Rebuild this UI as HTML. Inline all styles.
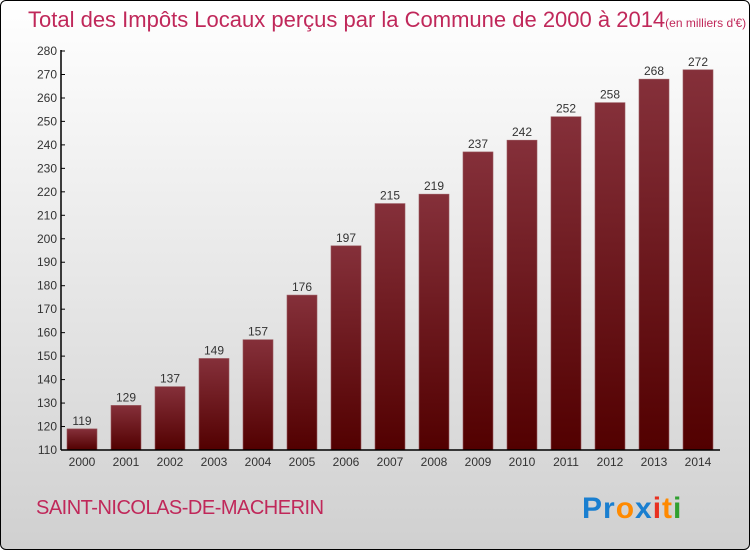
<!DOCTYPE html>
<html><head><meta charset="utf-8"><style>
body{margin:0;}
#c{width:748px;height:548px;border:1px solid #000;border-radius:6px;background:linear-gradient(#ffffff,#d0d0d0);position:relative;overflow:hidden;font-family:"Liberation Sans",sans-serif;}
</style></head><body>
<div id="c">
<svg id="s" width="750" height="550" style="position:absolute;left:-1px;top:-1px">
<defs><linearGradient id="g" x1="0" y1="0" x2="0" y2="1"><stop offset="0" stop-color="#85303a"/><stop offset="1" stop-color="#520000"/></linearGradient></defs>
<text x="28" y="27" font-size="22" fill="#c0285a">Total des Impôts Locaux perçus par la Commune de 2000 à 2014<tspan font-size="12">(en milliers d'€)</tspan></text>
<text x="36" y="514" font-size="20" fill="#c0285a" letter-spacing="-0.5">SAINT-NICOLAS-DE-MACHERIN</text>
<g font-size="30" font-weight="bold" letter-spacing="1"><text x="582" y="518"><tspan fill="#1a7fd0">Pr</tspan><tspan fill="#ff8a00">o</tspan><tspan fill="#1a7fd0">x</tspan><tspan fill="#e83020">i</tspan><tspan fill="#ff8a00">t</tspan><tspan fill="#30a030">i</tspan></text></g>
</svg>
</div>
<script>
const years=["2000","2001","2002","2003","2004","2005","2006","2007","2008","2009","2010","2011","2012","2013","2014"];
const values=[119,129,137,149,157,176,197,215,219,237,242,252,258,268,272];
const ticks=[110,120,130,140,150,160,170,180,190,200,210,220,230,240,250,260,270,280];
const s=document.getElementById('s');const NS='http://www.w3.org/2000/svg';
const y=v=>450-(v-110)*(399/170);const x=i=>82+i*44;
function mk(t,a,p){const e=document.createElementNS(NS,t);for(const k in a)e.setAttribute(k,a[k]);(p||s).appendChild(e);return e;}
values.forEach((v,i)=>{
 const r=mk('rect',{x:x(i)-15,y:y(v),width:30,height:450-y(v),fill:'url(#g)',stroke:'#9a5a60','stroke-width':0.6});
 
 
 const t=mk('text',{x:x(i),y:y(v)-4,'text-anchor':'middle','font-size':12,fill:'#333'});t.textContent=v;
 
 
 const xl=mk('text',{x:x(i),y:466,'text-anchor':'middle','font-size':12,fill:'#333'});xl.textContent=years[i];
 
 
});
ticks.forEach(v=>{
 mk('line',{x1:61,x2:65,y1:y(v),y2:y(v),stroke:'#000'});
 const t=mk('text',{x:57,y:y(v)+4,'text-anchor':'end','font-size':12,fill:'#333'});t.textContent=v;
 
 
});
const ya=mk('line',{x1:61,x2:61,y1:50,y2:450,stroke:'#000','stroke-width':1.5});


const xa=mk('line',{x1:61,x2:720,y1:450,y2:450,stroke:'#000','stroke-width':1.5});


</script>
</body></html>
